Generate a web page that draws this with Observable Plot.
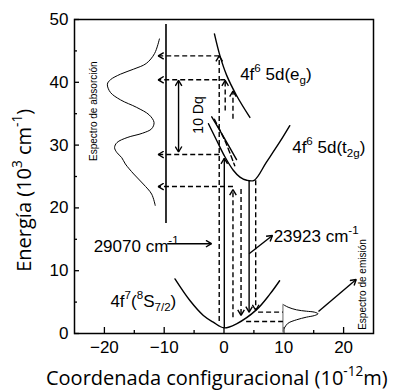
<!DOCTYPE html>
<html><head><meta charset="utf-8">
<script src="https://cdn.jsdelivr.net/npm/d3@7"></script>
<script src="https://cdn.jsdelivr.net/npm/@observablehq/plot@0.6"></script>
<style>
html,body{margin:0;padding:0;background:#fff;color:#000;}
#chart svg{display:block;}
</style></head><body><div id="chart"></div>
<script>
// ---------- data ----------
const xMajorTicks = [-20, -10, 0, 10, 20];
const xMinorTicks = [-15, -5, 5, 15];
const yMajorTicks = [0, 10, 20, 30, 40, 50];
const yMinorTicks = [5, 15, 25, 35, 45];

const groundState = [[-8.2,8.7],[-5.7,5.25],[-3.45,2.87],[-1.8,1.8],[0,0.9],[2.1,1.55],[5.45,3.8],[7.7,6.3],[9.3,8.4]];
const t2gState = [[-2.6,33.4],[-1.2,30.7],[0.17,28.1],[1.55,26.0],[2.67,24.9],[3.8,24.4],[5.05,24.4],[7.1,27.3],[9.33,30.5],[11,33.1]];
const t2gInner = [[-2.05,34.5],[0,31.2],[2.1,27.7]];
const t2gDashed = [[-1.6,34.1],[0.2,30.6],[1.8,26.7]];
const egState = [[-1.6,47.7],[-0.67,44.2],[0.45,41.1],[2.1,37.9],[4.33,34.4]];
const absorptionSpectrum = [[-10.8,46.9],[-11.6,44.6],[-13.0,43.0],[-15.1,42.1],[-17.3,41.3],[-19.0,40.4],[-19.5,39.7],[-19.0,38.4],[-17.3,37.2],[-14.6,36.0],[-12.5,34.8],[-11.7,33.6],[-12.1,32.6],[-13.6,31.9],[-16.2,31.2],[-17.9,30.4],[-18.3,29.6],[-17.9,28.8],[-17.1,28.0],[-16.5,27.0],[-15.1,25.4],[-13.5,23.8],[-12.1,22.2],[-11.5,20.4]];
const emissionSpectrum = [[9.88,4.62],[10.72,4.19],[12.12,3.77],[13.78,3.55],[15.17,3.39],[15.72,3.14],[15.17,2.87],[13.78,2.6],[12.12,2.18],[10.72,1.64],[10.17,1.0],[9.88,0.48]];

const absorptionAxis = [{x: -9.7, y1: 17.5, y2: 49.2}];
const emissionAxis = [{x: 9.85, y1: 0, y2: 4.55}];

const absorptionLevels = [{y: 44.2, x1: -0.8, x2: -11.0}, {y: 40.4, x1: 0.2, x2: -11.0}, {y: 28.5, x1: -0.8, x2: -11.0}, {y: 23.4, x1: 1.5, x2: -11.0}];
const emissionLevels = [{y: 3.4, x1: 5.7, x2: 9.85}, {y: 1.9, x1: 3.7, x2: 9.85}];

const upDashed = [{x: -0.8, y1: 2.0, y2: 44.2}, {x: 0.2, y1: 35.5, y2: 40.3}, {x: 1.5, y1: 34.2, y2: 38.6}, {x: 1.5, y1: 2.6, y2: 22.9}];
const upSolid = [{x: 0.05, y1: 0.9, y2: 27.9}];
const downDashed = [{x: 2.85, y1: 23.0, y2: 2.9}, {x: 5.3, y1: 24.4, y2: 3.7}];
const downSolid = [{x: 4.2, y1: 24.4, y2: 3.4}];
const tenDq = [{x: -7.6, y1: 28.9, y2: 40.3}];
const pointers = [{x1: -9.5, y1: 14.3, x2: -2.1, y2: 14.3}, {x1: 4.2, y1: 12.7, x2: 8.1, y2: 15.6}, {x1: 15.8, y1: 3.5, x2: 22.1, y2: 8.6}];

const stateLabels = [
  {x: 2.7, y: 40.4, text: "4f^{6} 5d(e_{g})"},
  {x: 11.4, y: 28.8, text: "4f^{6} 5d(t_{2g})"},
  {x: -19, y: 4.2, text: "4f^{7}(^{8}S_{7/2})"},
  {x: -21.8, y: 12.9, text: "29070 cm^{-1}"},
  {x: 8.3, y: 14.5, text: "23923 cm^{-1}"}
];
const spectrumLabels = [
  {x: -21.7, y: 35.4, text: "Espectro de absorción"},
  {x: 23.2, y: 7.8, text: "Espectro de emisión"}
];
const dqLabel = [{x: -4.3, y: 34.8, text: "10 Dq"}];
const xTitle = "Coordenada configuracional (10^{-12}m)";
const yTitle = "Energía (10^{3} cm^{-1})";

// ---------- helpers ----------
const NS = "http://www.w3.org/2000/svg";
function arrowHead(color) {
  const m = document.createElementNS(NS, "marker");
  m.setAttribute("viewBox", "-7 -4 8 8");
  m.setAttribute("markerWidth", 8);
  m.setAttribute("markerHeight", 8);
  m.setAttribute("markerUnits", "userSpaceOnUse");
  m.setAttribute("orient", "auto-start-reverse");
  m.setAttribute("stroke-dasharray", "none");
  const p = document.createElementNS(NS, "path");
  p.setAttribute("d", "M-5.5,-3.3L0,0L-5.5,3.3");
  p.setAttribute("fill", "none");
  p.setAttribute("stroke", color);
  p.setAttribute("stroke-width", 1.4);
  p.setAttribute("stroke-dasharray", "none");
  m.appendChild(p);
  return m;
}
function richify(root) {
  root.querySelectorAll("text").forEach(el => {
    const t = el.textContent;
    if (!/[\^_]\{/.test(t)) return;
    const fs = parseFloat(getComputedStyle(el).fontSize) || 16;
    while (el.firstChild) el.removeChild(el.firstChild);
    const re = /([\^_])\{([^}]*)\}|([^\^_]+)/g;
    let m;
    while ((m = re.exec(t))) {
      const ts = document.createElementNS(NS, "tspan");
      if (m[3] !== undefined) ts.textContent = m[3];
      else {
        ts.textContent = m[2];
        ts.setAttribute("font-size", (fs * 0.68).toFixed(1));
        ts.setAttribute("baseline-shift", m[1] === "^" ? (fs * 0.45).toFixed(1) : (-fs * 0.22).toFixed(1));
      }
      el.appendChild(ts);
    }
  });
}

const sans = "Liberation Sans, Arial, Helvetica, sans-serif";
const titleFont = "Open Sans, sans-serif";
const lw = 1.4;
const dash = "5,3";

const chart = Plot.plot({
  width: 399, height: 391,
  marginLeft: 74, marginRight: 26, marginTop: 19, marginBottom: 58,
  x: {domain: [-25, 25]},
  y: {domain: [0, 50]},
  style: {fontFamily: sans, color: "black", background: "white", overflow: "visible"},
  marks: [
    Plot.frame({stroke: "black", strokeWidth: 1.5}),
    Plot.axisY(yMajorTicks, {anchor: "left", tickSize: -5, tickPadding: 11, fontSize: 17, fontFamily: sans, label: null, strokeWidth: 1.3}),
    Plot.axisY(yMinorTicks, {anchor: "left", tickSize: -3, tickFormat: () => "", fill: "none", label: null, strokeWidth: 1.3}),
    Plot.axisX(xMajorTicks, {anchor: "bottom", tickSize: -6, tickPadding: 13, fontSize: 17, fontFamily: sans, label: null, strokeWidth: 1.3}),
    Plot.axisX(xMinorTicks, {anchor: "bottom", tickSize: -3, tickFormat: () => "", fill: "none", label: null, strokeWidth: 1.3}),

    Plot.line(groundState, {curve: "catmull-rom", strokeWidth: lw}),
    Plot.line(t2gState, {curve: "catmull-rom", strokeWidth: lw}),
    Plot.line(t2gInner, {curve: "catmull-rom", strokeWidth: lw}),
    Plot.line(t2gDashed, {curve: "catmull-rom", strokeWidth: lw, strokeDasharray: dash}),
    Plot.line(egState, {curve: "catmull-rom", strokeWidth: lw}),
    Plot.line(absorptionSpectrum, {curve: "catmull-rom", strokeWidth: 1}),
    Plot.line(emissionSpectrum, {curve: "catmull-rom", strokeWidth: 1}),

    Plot.ruleX(absorptionAxis, {x: "x", y1: "y1", y2: "y2", strokeWidth: 1.6}),
    Plot.ruleX(emissionAxis, {x: "x", y1: "y1", y2: "y2", stroke: "#999", strokeWidth: 1.5}),

    Plot.link(absorptionLevels, {x1: "x1", x2: "x2", y1: "y", y2: "y", strokeWidth: lw, strokeDasharray: dash, markerEnd: arrowHead}),
    Plot.link(emissionLevels, {x1: "x1", x2: "x2", y1: "y", y2: "y", strokeWidth: lw, strokeDasharray: dash}),
    Plot.link(upDashed, {x1: "x", x2: "x", y1: "y1", y2: "y2", strokeWidth: lw, strokeDasharray: dash, markerEnd: arrowHead}),
    Plot.link(downDashed, {x1: "x", x2: "x", y1: "y1", y2: "y2", strokeWidth: lw, strokeDasharray: dash, markerEnd: arrowHead}),
    Plot.link(upSolid, {x1: "x", x2: "x", y1: "y1", y2: "y2", strokeWidth: lw, markerEnd: arrowHead}),
    Plot.link(downSolid, {x1: "x", x2: "x", y1: "y1", y2: "y2", strokeWidth: lw, markerEnd: arrowHead}),
    Plot.link(tenDq, {x1: "x", x2: "x", y1: "y1", y2: "y2", strokeWidth: lw, markerStart: arrowHead, markerEnd: arrowHead}),
    Plot.link(pointers, {x1: "x1", x2: "x2", y1: "y1", y2: "y2", strokeWidth: lw, markerEnd: arrowHead}),

    Plot.text(stateLabels, {x: "x", y: "y", text: "text", textAnchor: "start", lineAnchor: "bottom", fontSize: 17, fontFamily: sans, fill: "black"}),
    Plot.text(spectrumLabels, {x: "x", y: "y", text: "text", rotate: -90, fontSize: 10, fontFamily: sans, fill: "black"}),
    Plot.text(dqLabel, {x: "x", y: "y", text: "text", rotate: -90, fontSize: 14, fontFamily: sans, fill: "black"}),
    Plot.text([xTitle], {x: -1.2, frameAnchor: "bottom", dy: 51, text: d => d, textAnchor: "middle", lineAnchor: "bottom", fontSize: 20, fontFamily: titleFont, fill: "black"}),
    Plot.text([yTitle], {y: 22.8, frameAnchor: "left", dx: -50, text: d => d, textAnchor: "middle", lineAnchor: "middle", rotate: -90, fontSize: 20, fontFamily: titleFont, fill: "black"})
  ]
});
document.getElementById("chart").append(chart);
richify(chart);
</script>
</body></html>
